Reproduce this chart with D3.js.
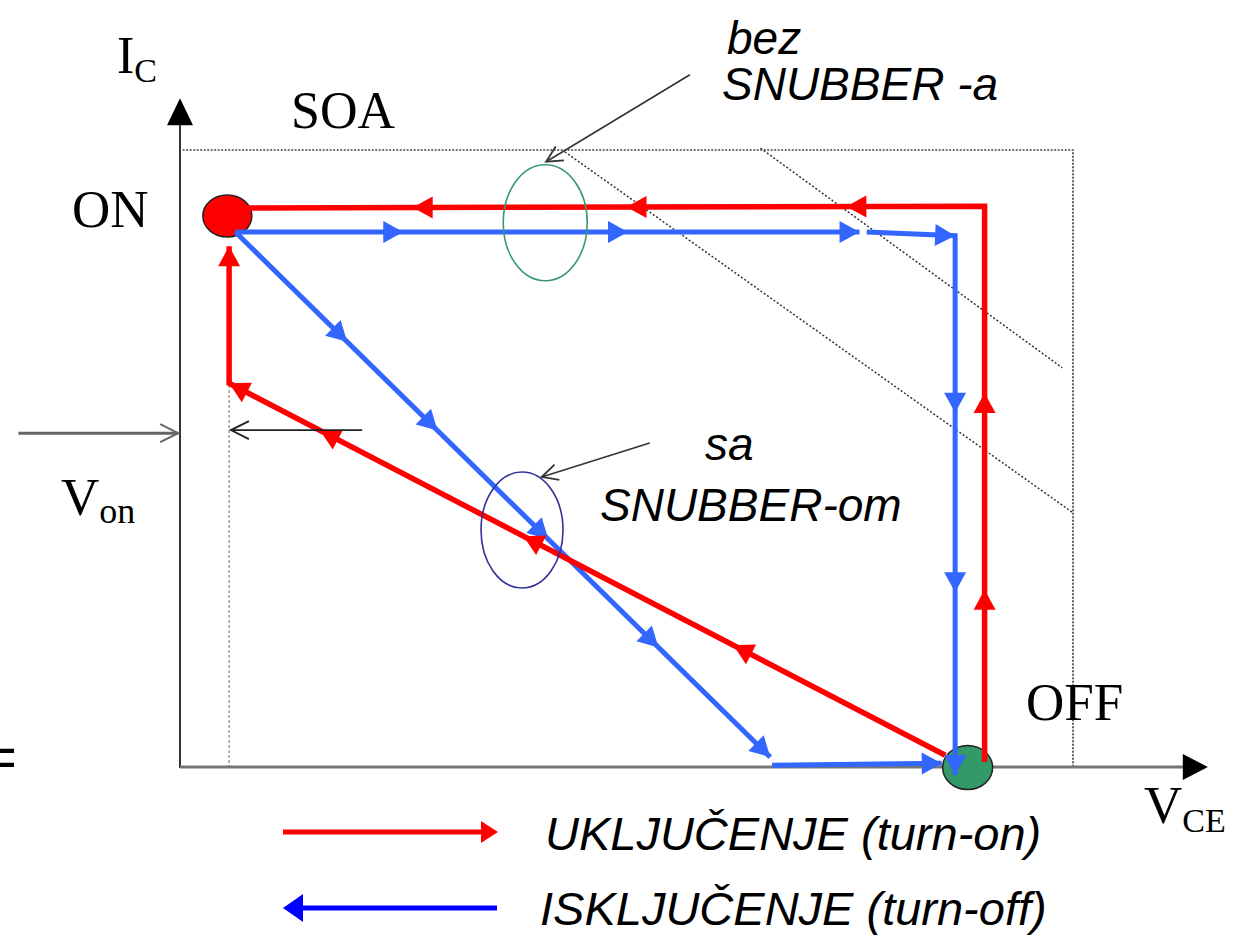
<!DOCTYPE html>
<html><head><meta charset="utf-8">
<script src="https://cdn.jsdelivr.net/npm/d3@7"></script>
<style>html,body{margin:0;padding:0;background:#fff;} svg{display:block}</style>
</head><body>
<svg id="chart" width="1245" height="936"></svg>
<script>
// ---------------- DATA (V_CE, I_C in relative units; 0..100 = SOA limits) ----------------
const turnOnNoSnubber = [[90.1, 0.8], [90.1, 90.9], [5.5, 90.6]];
const turnOnNoSnubberArrows = [[0, 0.31], [0, 0.664], [1, 0.183], [1, 0.474], [1, 0.757]];
const turnOnSnubber = [[85.7, 1.9], [5.5, 62.2], [5.5, 84.4]];
const turnOnSnubberArrows = [[0, 0.296], [0, 0.589], [0, 0.873], [0, 1], [1, 1]];
const turnOffNoSnubberA = [[6.2, 86.7], [76.1, 86.7]];
const turnOffNoSnubberAArrows = [[0, 0.269], [0, 0.629], [0, 1]];
const turnOffNoSnubberB = [[76.9, 86.7], [86.8, 86.1], [86.8, -1.3]];
const turnOffNoSnubberBArrows = [[0, 1], [1, 0.328], [1, 0.661], [1, 1]];
const turnOffSnubberA = [[6.2, 86.7], [66.1, 1.6]];
const turnOffSnubberAArrows = [[0, 0.209], [0, 0.378], [0, 0.585], [0, 0.791], [0, 1]];
const turnOffSnubberB = [[66.3, 0.3], [85.3, 0.6]];
const turnOffSnubberBArrows = [[0, 1]];
const onPoint = [5.3, 89.3];
const offPoint = [88.2, -0.1];
const soaBox = [[0.3, 100], [100, 100], [100, 0]];
const powerLimit1 = [[43.1, 99.7], [100, 41.2]];
const powerLimit2 = [[65.0, 100.3], [98.8, 64.7]];
const vonLine = [[5.5, 61.9], [5.5, 0]];
const ellipseNoSnubber = [40.9, 88.2];
const ellipseSnubber = [38.3, 38.4];
const calloutNoSnubber = [[57.1, 112.2], [41.0, 98.1]];
const calloutSnubber = [[52.6, 52.5], [40.5, 47.0]];
const vonArrowOuter = [[-18.1, 54.1], [-0.2, 54.1]];
const vonArrowInner = [[20.4, 54.6], [5.7, 54.6]];
const yAxisExtent = [0, 108.4];
const xAxisExtent = [0, 115.1];
const pointLabels = ["ON", "OFF", "SOA"];
const axisLabels = [["I", "C"], ["V", "CE"], ["V", "on"]];
const calloutLabels = [["bez", "SNUBBER -a"], ["sa", "SNUBBER-om"]];
const legendLabels = ["UKLJUČENJE (turn-on)", "ISKLJUČENJE (turn-off)"];

// ---------------- SCALES ----------------
const x = d3.scaleLinear().domain([0, 100]).range([180, 1073]);
const y = d3.scaleLinear().domain([0, 100]).range([767, 150]);
const svg = d3.select("#chart");
const RED = "#ff0000", BLUE = "#3366ff";
const serif = "'Liberation Serif','Times New Roman',serif";
const sans = "'Liberation Sans',Arial,sans-serif";
const line = d3.line().x(d => x(d[0])).y(d => y(d[1]));

function triangle(g, tip, ux, uy, len, hw, color) {
  const bx = tip[0] - ux * len, by = tip[1] - uy * len;
  const nx = -uy, ny = ux;
  g.append("path")
    .attr("d", `M${tip[0]},${tip[1]}L${bx + nx * hw},${by + ny * hw}L${bx - nx * hw},${by - ny * hw}Z`)
    .attr("fill", color);
}
function chevron(g, tip, ux, uy, len, hw, color, w) {
  const bx = tip[0] - ux * len, by = tip[1] - uy * len;
  const nx = -uy, ny = ux;
  g.append("path")
    .attr("d", `M${bx + nx * hw},${by + ny * hw}L${tip[0]},${tip[1]}L${bx - nx * hw},${by - ny * hw}`)
    .attr("fill", "none").attr("stroke", color).attr("stroke-width", w);
}
function dirPath(pts, arrows, color, width, len, hw) {
  const g = svg.append("g");
  g.append("path").attr("d", line(pts)).attr("fill", "none")
    .attr("stroke", color).attr("stroke-width", width).attr("stroke-linejoin", "miter");
  arrows.forEach(([s, t]) => {
    const a = [x(pts[s][0]), y(pts[s][1])], b = [x(pts[s + 1][0]), y(pts[s + 1][1])];
    const dx = b[0] - a[0], dy = b[1] - a[1], L = Math.hypot(dx, dy);
    const tip = [a[0] + dx * t, a[1] + dy * t];
    triangle(g, tip, dx / L, dy / L, len, hw, color);
  });
}
function simpleLine(pts, color, width, dash) {
  svg.append("path").attr("d", line(pts)).attr("fill", "none")
    .attr("stroke", color).attr("stroke-width", width)
    .attr("stroke-dasharray", dash || null);
}
function arrowLine(pts, color, width, len, hw, chevW) {
  simpleLine(pts, color, width);
  const a = [x(pts[0][0]), y(pts[0][1])], b = [x(pts[1][0]), y(pts[1][1])];
  const dx = b[0] - a[0], dy = b[1] - a[1], L = Math.hypot(dx, dy);
  chevron(svg, b, dx / L, dy / L, len, hw, color, chevW);
}

// ---------------- SOA boundary & power-limit lines ----------------
simpleLine(soaBox, "#444", 1.7, "2,1.5");
simpleLine(powerLimit1, "#333", 1.5, "2,2");
simpleLine(powerLimit2, "#333", 1.5, "2,2");
simpleLine(vonLine, "#888", 1.2, "3,2");

// ---------------- axes ----------------
svg.append("line").attr("x1", x(0)).attr("x2", x(0)).attr("y1", y(0) + 1).attr("y2", y(yAxisExtent[1]) + 20)
  .attr("stroke", "#333").attr("stroke-width", 2);
triangle(svg, [x(0), y(yAxisExtent[1])], 0, -1, 27, 13, "#000");
svg.append("line").attr("x1", x(0)).attr("x2", x(xAxisExtent[1]) - 20).attr("y1", y(0)).attr("y2", y(0))
  .attr("stroke", "#777").attr("stroke-width", 3);
triangle(svg, [x(xAxisExtent[1]), y(0)], 1, 0, 25, 13, "#000");

// ---------------- state points ----------------
svg.append("ellipse").attr("cx", x(onPoint[0])).attr("cy", y(onPoint[1])).attr("rx", 24.5).attr("ry", 21)
  .attr("fill", RED).attr("stroke", "#222").attr("stroke-width", 1.5);
svg.append("ellipse").attr("cx", x(offPoint[0])).attr("cy", y(offPoint[1])).attr("rx", 25).attr("ry", 22)
  .attr("fill", "#339966").attr("stroke", "#222").attr("stroke-width", 1.5);

// ---------------- trajectories ----------------
dirPath(turnOffSnubberA, turnOffSnubberAArrows, BLUE, 5, 20, 11);
dirPath(turnOffSnubberB, turnOffSnubberBArrows, BLUE, 5, 20, 11);
dirPath(turnOnSnubber, turnOnSnubberArrows, RED, 5.5, 20, 11);
dirPath(turnOffNoSnubberA, turnOffNoSnubberAArrows, BLUE, 5, 20, 11);
dirPath(turnOffNoSnubberB, turnOffNoSnubberBArrows, BLUE, 5, 20, 11);
dirPath(turnOnNoSnubber, turnOnNoSnubberArrows, RED, 5.5, 20, 11);

// ---------------- highlight ellipses & callouts ----------------
svg.append("ellipse").attr("cx", x(ellipseNoSnubber[0])).attr("cy", y(ellipseNoSnubber[1])).attr("rx", 42).attr("ry", 58)
  .attr("fill", "none").attr("stroke", "#3a9a6e").attr("stroke-width", 1.6);
svg.append("ellipse").attr("cx", x(ellipseSnubber[0])).attr("cy", y(ellipseSnubber[1])).attr("rx", 41).attr("ry", 58)
  .attr("fill", "none").attr("stroke", "#33339a").attr("stroke-width", 1.6);
arrowLine(calloutNoSnubber, "#333", 1.6, 16, 8, 1.8);
arrowLine(calloutSnubber, "#333", 1.6, 16, 8, 1.8);
arrowLine(vonArrowOuter, "#666", 3, 18, 9, 2);
arrowLine(vonArrowInner, "#222", 1.8, 18, 9, 1.8);

// ---------------- texts ----------------
function subText(tx, ty, main, sub, size, subSize, dy) {
  const t = svg.append("text").attr("x", tx).attr("y", ty)
    .attr("font-family", serif).attr("font-size", size).attr("fill", "#000");
  t.append("tspan").text(main);
  t.append("tspan").attr("dy", dy).attr("font-size", subSize).text(sub);
}
subText(117, 73, axisLabels[0][0], axisLabels[0][1], 52, 34, 9);
subText(1144, 823, axisLabels[1][0], axisLabels[1][1], 53, 34, 9);
subText(61, 515, axisLabels[2][0], axisLabels[2][1], 53, 36, 8);

svg.append("text").attr("x", 72).attr("y", 227).attr("font-family", serif).attr("font-size", 53).text(pointLabels[0]);
svg.append("text").attr("x", 1026).attr("y", 720).attr("font-family", serif).attr("font-size", 53).text(pointLabels[1]);
svg.append("text").attr("x", 291).attr("y", 128).attr("font-family", serif).attr("font-size", 52).text(pointLabels[2]);

function itText(tx, ty, s) {
  svg.append("text").attr("x", tx).attr("y", ty).attr("font-family", sans)
    .attr("font-style", "italic").attr("font-size", 46).attr("fill", "#000").text(s);
}
itText(727, 54, calloutLabels[0][0]);
itText(722, 100, calloutLabels[0][1]);
itText(705, 460, calloutLabels[1][0]);
itText(600, 521, calloutLabels[1][1]);

// partial "=" at left edge
svg.append("text").attr("x", -17).attr("y", 777).attr("font-family", sans).attr("font-size", 58).text("=");

// ---------------- legend ----------------
svg.append("line").attr("x1", 283).attr("x2", 485).attr("y1", 832).attr("y2", 832)
  .attr("stroke", RED).attr("stroke-width", 5);
triangle(svg, [498, 832], 1, 0, 17, 11, RED);
svg.append("line").attr("x1", 296).attr("x2", 497).attr("y1", 908).attr("y2", 908)
  .attr("stroke", "#0000ff").attr("stroke-width", 5);
triangle(svg, [283, 908], -1, 0, 20, 14, "#0000ff");
svg.append("text").attr("x", 545).attr("y", 850).attr("font-family", sans).attr("font-style", "italic")
  .attr("font-size", 47).text(legendLabels[0]);
svg.append("text").attr("x", 540).attr("y", 925).attr("font-family", sans).attr("font-style", "italic")
  .attr("font-size", 47).text(legendLabels[1]);
</script>
</body></html>
